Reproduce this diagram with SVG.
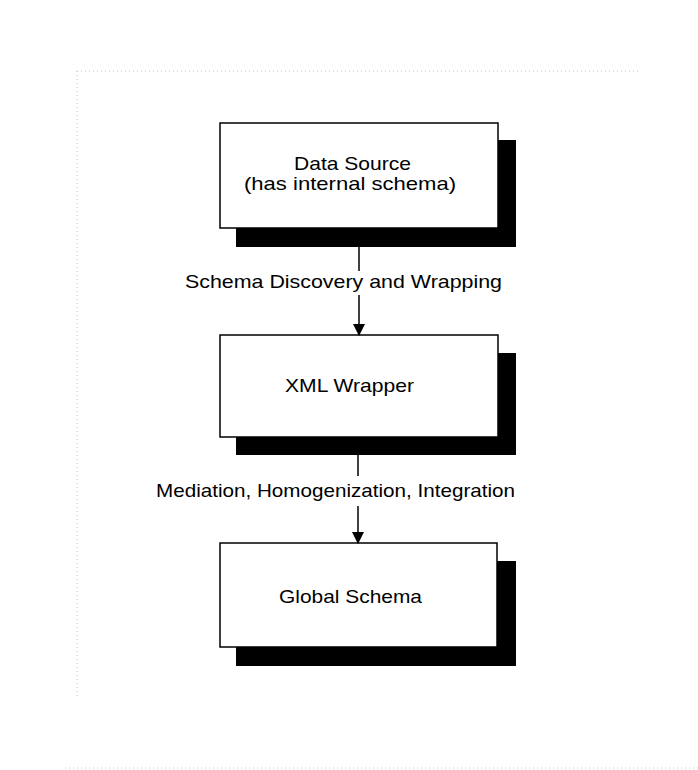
<svg xmlns="http://www.w3.org/2000/svg" width="698" height="770" viewBox="0 0 698 770">
<defs>
<style>
.box{fill:#fff;stroke:#000;stroke-width:1.5}
.shadow{fill:#000}
.t{font-family:"Liberation Sans",Arial,sans-serif;font-size:19px;fill:#000}
.line{stroke:#000;stroke-width:1.5;fill:none}
.frame{stroke:#c4c4c4;stroke-width:1;stroke-dasharray:1 3;fill:none}
</style>
<marker id="ah" markerWidth="12" markerHeight="12" refX="11" refY="6" orient="auto" markerUnits="userSpaceOnUse">
<path d="M0,0 L12,6 L0,12 Z" fill="#000"/>
</marker>
</defs>
<rect width="698" height="770" fill="#fff"/>
<g id="frame">
<path class="frame" d="M77,71 H640"/>
<path class="frame" d="M77,71 V696"/>
<path class="frame" d="M65,768 H698"/>
</g>
<g id="node-data-source">
<rect class="shadow" x="236" y="140" width="280" height="107"/>
<rect class="box" x="220" y="123" width="278" height="105"/>
<text class="t" x="352.5" y="170" text-anchor="middle" textLength="117" lengthAdjust="spacingAndGlyphs">Data Source</text>
<text class="t" x="350" y="190" text-anchor="middle" textLength="212" lengthAdjust="spacingAndGlyphs">(has internal schema)</text>
</g>
<g id="node-xml-wrapper">
<rect class="shadow" x="236" y="353" width="280" height="102"/>
<rect class="box" x="220" y="335" width="278" height="102"/>
<text class="t" x="349.5" y="392" text-anchor="middle" textLength="129" lengthAdjust="spacingAndGlyphs">XML Wrapper</text>
</g>
<g id="node-global-schema">
<rect class="shadow" x="236" y="561" width="280" height="105"/>
<rect class="box" x="220" y="543" width="277" height="104"/>
<text class="t" x="350.5" y="603" text-anchor="middle" textLength="143" lengthAdjust="spacingAndGlyphs">Global Schema</text>
</g>
<g id="connectors">
<path class="line" d="M359,247 V271"/>
<path class="line" d="M359,295 V335" marker-end="url(#ah)"/>
<text class="t" x="185" y="288" textLength="317" lengthAdjust="spacingAndGlyphs">Schema Discovery and Wrapping</text>
<path class="line" d="M358,455 V476"/>
<path class="line" d="M358,506 V543" marker-end="url(#ah)"/>
<text class="t" x="156" y="497" textLength="359" lengthAdjust="spacingAndGlyphs">Mediation, Homogenization, Integration</text>
</g>
</svg>
